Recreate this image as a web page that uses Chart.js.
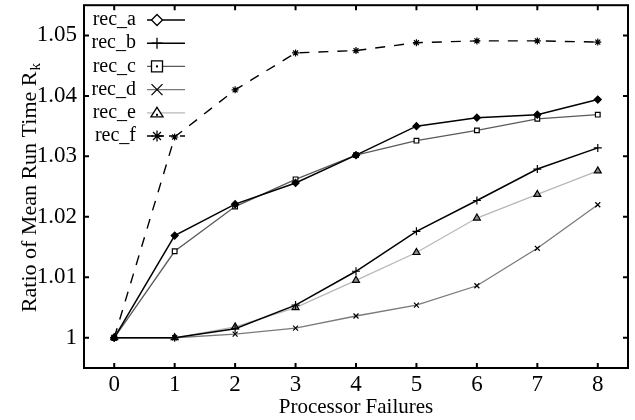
<!DOCTYPE html>
<html>
<head>
<meta charset="utf-8">
<script src="https://cdn.jsdelivr.net/npm/chart.js@4.4.0/dist/chart.umd.min.js"></script>
<style>
  body { margin: 0; background: #fff; }
  #wrap { width: 635px; height: 420px; }
</style>
</head>
<body>
<div id="wrap"><canvas id="chart" width="635" height="420"></canvas></div>
<script>
// Data
const failures = [0, 1, 2, 3, 4, 5, 6, 7, 8];
const recA = [1.0, 1.0169, 1.0221, 1.0256, 1.0302, 1.0350, 1.0364, 1.0369, 1.0394];
const recB = [1.0, 1.0, 1.0015, 1.0054, 1.0110, 1.0176, 1.0227, 1.0279, 1.0314];
const recC = [1.0, 1.0143, 1.0217, 1.0262, 1.0302, 1.0326, 1.0343, 1.0362, 1.0369];
const recD = [1.0, 1.0, 1.0006, 1.0016, 1.0036, 1.0054, 1.0086, 1.0148, 1.0220];
const recE = [1.0, 1.0, 1.0018, 1.0050, 1.0095, 1.0141, 1.0198, 1.0237, 1.0276];
const recF = [1.0, 1.0332, 1.0410, 1.0471, 1.0475, 1.0488, 1.0491, 1.0491, 1.0489];

const xTicks = [0, 1, 2, 3, 4, 5, 6, 7, 8];
const yTicks = [1, 1.01, 1.02, 1.03, 1.04, 1.05];
const yTickLabels = ['1', '1.01', '1.02', '1.03', '1.04', '1.05'];

const FONT = '"Liberation Serif", "Times New Roman", serif';

function points(values) {
    return failures.map((x, i) => ({ x: x, y: values[i] }));
}

function series(label, values, color, style, width, dash, fill, radius) {
    return {
        label: label,
        data: points(values),
        borderColor: color,
        backgroundColor: fill,
        borderWidth: width,
        borderDash: dash,
        pointStyle: style,
        pointRadius: radius,
        pointBorderColor: '#000000',
        pointBackgroundColor: fill,
        pointBorderWidth: 1.2,
        tension: 0
    };
}

const datasets = [
    series('rec_a', recA, '#000000', 'rectRot', 1.5, [], '#000000', 3.5),
    series('rec_b', recB, '#000000', 'cross', 1.5, [], '#000000', 4),
    series('rec_c', recC, '#5a5a5a', 'rect', 1.3, [], '#ffffff', 3.3),
    series('rec_d', recD, '#7a7a7a', 'crossRot', 1.3, [], '#000000', 3.5),
    series('rec_e', recE, '#b8b8b8', 'triangle', 1.3, [], '#8a8a8a', 4),
    series('rec_f', recF, '#000000', 'star', 1.4, [10, 9], '#000000', 3.5)
];

// Draws a legend marker
function drawMarker(ctx, style, x, y, r) {
    ctx.beginPath();
    if (style === 'rectRot') {
        ctx.moveTo(x, y - r); ctx.lineTo(x + r, y); ctx.lineTo(x, y + r); ctx.lineTo(x - r, y); ctx.closePath();
        ctx.fillStyle = '#fff'; ctx.fill(); ctx.stroke();
    } else if (style === 'cross') {
        ctx.moveTo(x - r, y); ctx.lineTo(x + r, y); ctx.moveTo(x, y - r); ctx.lineTo(x, y + r); ctx.stroke();
    } else if (style === 'rect') {
        ctx.rect(x - r, y - r, 2 * r, 2 * r); ctx.fillStyle = '#fff'; ctx.fill(); ctx.stroke();
        ctx.beginPath(); ctx.fillStyle = '#000'; ctx.fillRect(x - 1, y - 1, 2, 2);
    } else if (style === 'crossRot') {
        ctx.moveTo(x - r, y - r); ctx.lineTo(x + r, y + r); ctx.moveTo(x + r, y - r); ctx.lineTo(x - r, y + r); ctx.stroke();
    } else if (style === 'triangle') {
        ctx.moveTo(x, y - r); ctx.lineTo(x + r * 1.1, y + r * 0.75); ctx.lineTo(x - r * 1.1, y + r * 0.75); ctx.closePath();
        ctx.fillStyle = '#fff'; ctx.fill(); ctx.stroke();
        ctx.beginPath(); ctx.fillStyle = '#000'; ctx.fillRect(x - 1, y + 1, 2, 2);
    } else if (style === 'star') {
        ctx.moveTo(x - r, y); ctx.lineTo(x + r, y); ctx.moveTo(x, y - r); ctx.lineTo(x, y + r);
        const d = r * 0.72;
        ctx.moveTo(x - d, y - d); ctx.lineTo(x + d, y + d); ctx.moveTo(x + d, y - d); ctx.lineTo(x - d, y + d);
        ctx.stroke();
    }
}

// Frame, inward ticks, y title and legend
const framePlugin = {
    id: 'frame',
    afterDraw(chart) {
        const ctx = chart.ctx;
        const area = chart.chartArea;
        const xs = chart.scales.x;
        const ys = chart.scales.y;
        ctx.save();
        ctx.strokeStyle = '#000';
        ctx.lineWidth = 2;
        ctx.strokeRect(area.left, area.top, area.right - area.left, area.bottom - area.top);
        xTicks.forEach(v => {
            const px = xs.getPixelForValue(v);
            ctx.beginPath();
            ctx.moveTo(px, area.bottom); ctx.lineTo(px, area.bottom - 5);
            ctx.moveTo(px, area.top); ctx.lineTo(px, area.top + 5);
            ctx.stroke();
        });
        yTicks.forEach(v => {
            const py = ys.getPixelForValue(v);
            ctx.beginPath();
            ctx.moveTo(area.left, py); ctx.lineTo(area.left + 5, py);
            ctx.moveTo(area.right, py); ctx.lineTo(area.right - 5, py);
            ctx.stroke();
        });

        // y axis title with subscript
        ctx.fillStyle = '#000';
        ctx.translate(28, (area.top + area.bottom) / 2 + 1.5);
        ctx.rotate(-Math.PI / 2);
        ctx.font = '22px ' + FONT;
        const main = 'Ratio of Mean Run Time R';
        const wMain = ctx.measureText(main).width;
        ctx.font = '15px ' + FONT;
        const wSub = ctx.measureText('k').width;
        const start = -(wMain + wSub) / 2;
        ctx.textBaseline = 'alphabetic';
        ctx.font = '22px ' + FONT;
        ctx.fillText(main, start, 8);
        ctx.font = '15px ' + FONT;
        ctx.fillText('k', start + wMain + 1, 12);
        ctx.setTransform(1, 0, 0, 1, 0, 0);

        // legend
        ctx.font = '20px ' + FONT;
        ctx.textAlign = 'right';
        ctx.textBaseline = 'middle';
        chart.data.datasets.forEach((ds, i) => {
            const y = 20 + i * 23.2;
            ctx.fillStyle = '#000';
            ctx.fillText(ds.label, 136, y);
            ctx.strokeStyle = ds.borderColor;
            ctx.lineWidth = ds.borderWidth;
            ctx.setLineDash(ds.borderDash.length ? [6, 5] : []);
            ctx.beginPath();
            ctx.moveTo(147, y); ctx.lineTo(185, y);
            ctx.stroke();
            ctx.setLineDash([]);
            ctx.strokeStyle = '#000';
            ctx.lineWidth = 1.3;
            drawMarker(ctx, ds.pointStyle, 157, y, 5.5);
        });
        ctx.restore();
    }
};

new Chart(document.getElementById('chart'), {
    type: 'line',
    data: { datasets: datasets },
    plugins: [framePlugin],
    options: {
        responsive: false,
        animation: false,
        layout: { padding: { top: 5, right: 7, left: 0, bottom: 0 } },
        plugins: {
            legend: { display: false },
            tooltip: { enabled: false }
        },
        scales: {
            x: {
                type: 'linear',
                min: -0.5,
                max: 8.5,
                afterBuildTicks: scale => { scale.ticks = xTicks.map(v => ({ value: v })); },
                afterFit: scale => {
                    scale.height = 52;
                    scale.paddingLeft = 0;
                    scale.paddingRight = 0;
                },
                grid: { display: false, drawTicks: false },
                border: { display: false },
                ticks: {
                    color: '#000',
                    padding: 3,
                    font: { family: FONT, size: 23 },
                    callback: v => String(v)
                },
                title: {
                    display: true,
                    text: 'Processor Failures',
                    color: '#000',
                    font: { family: FONT, size: 21 },
                    padding: { top: 0, bottom: 0 }
                }
            },
            y: {
                type: 'linear',
                min: 0.995,
                max: 1.055,
                afterBuildTicks: scale => { scale.ticks = yTicks.map(v => ({ value: v })); },
                afterFit: scale => {
                    scale.width = 84;
                    scale.paddingTop = 0;
                    scale.paddingBottom = 0;
                },
                grid: { display: false, drawTicks: false },
                border: { display: false },
                ticks: {
                    color: '#000',
                    padding: 7,
                    font: { family: FONT, size: 23 },
                    callback: (v) => {
                        const i = yTicks.findIndex(t => Math.abs(t - v) < 1e-9);
                        return i >= 0 ? yTickLabels[i] : '';
                    }
                }
            }
        }
    }
});
</script>
</body>
</html>
